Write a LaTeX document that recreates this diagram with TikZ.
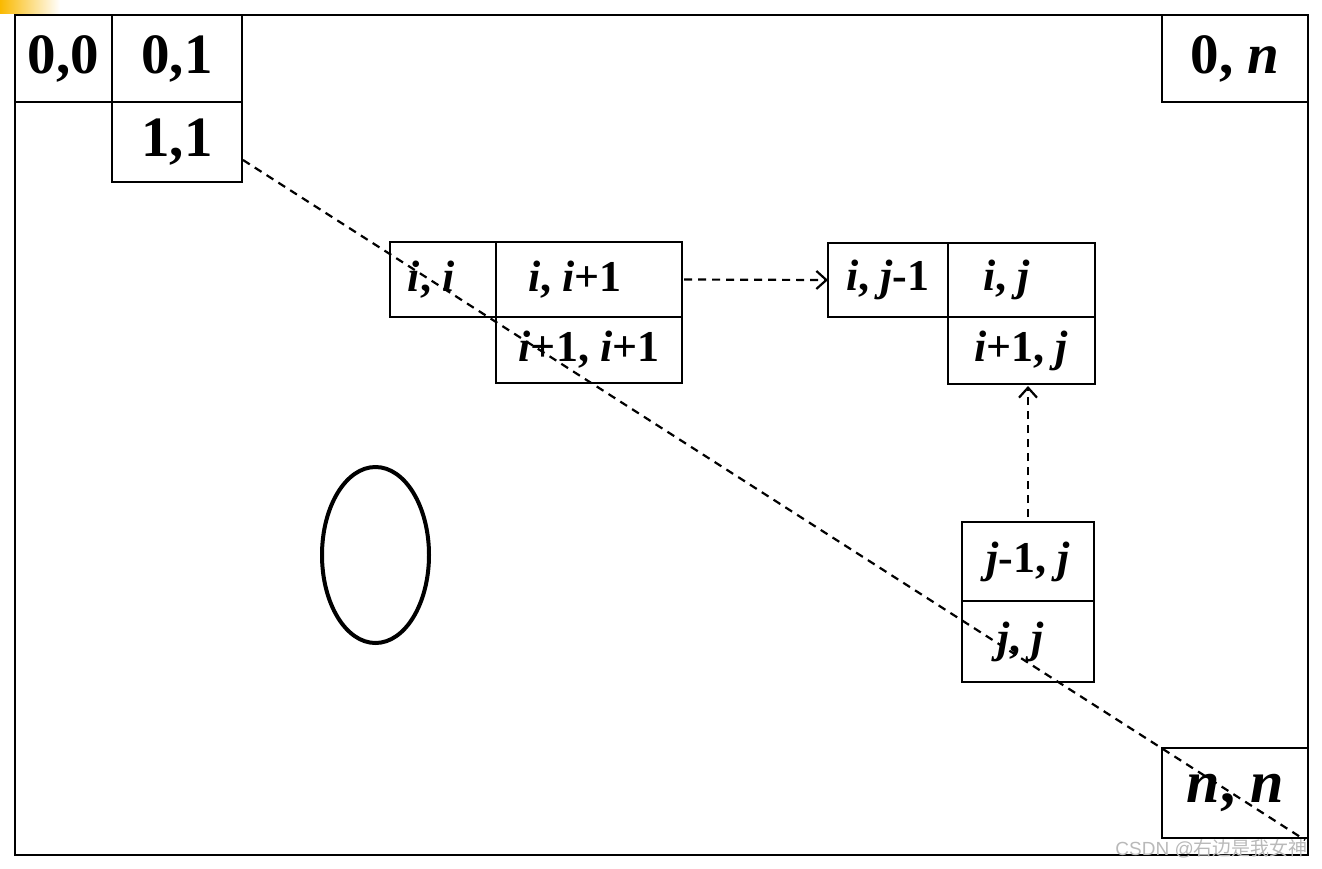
\documentclass[tikz,border=0pt]{standalone}
\usepackage{fontspec}
\setmainfont{Liberation Serif}
\newfontfamily\cjkfont{Noto Sans CJK SC}
\newfontfamily\marksans{Liberation Sans}
\usepackage{tikz}
\usetikzlibrary{arrows.meta, shapes.geometric, positioning}
\definecolor{tplyellow}{RGB}{250,185,0}

\begin{document}
\begin{tikzpicture}[x=1pt, y=-1pt,
  cell/.style={draw, line width=2.8pt, inner sep=0pt, outer sep=0pt, font=\bfseries\fontsize{44}{48}\selectfont},
  bigcell/.style={cell, font=\bfseries\fontsize{57}{60}\selectfont},
  link/.style={line width=2.2pt, dash pattern=on 8pt off 6pt, -{Straight Barb[length=10pt, width=18pt]}}]
\useasboundingbox (0,0) rectangle (1322,868);

% Template corner
\shade[left color=tplyellow, right color=white] (0,0) rectangle (60,13);

% Matrix frame
\draw[line width=2.8pt] (15,15) rectangle (1308,855);

% Top-left cells
\node[bigcell, minimum width=97pt, minimum height=87pt] (c00) at (63.5,58.5) {0,0};
\node[bigcell, minimum width=130pt, minimum height=87pt, anchor=west] (c01) at (c00.east) {0,1};
\node[bigcell, minimum width=130pt, minimum height=80pt, anchor=north] (c11) at (c01.south) {1,1};

% Corner cells
\node[bigcell, minimum width=146pt, minimum height=87pt] (c0n) at (1235,58.5) {0, \textit{n}};
\node[bigcell, minimum width=146pt, minimum height=90pt, font=\bfseries\fontsize{60}{64}\selectfont] (cnn) at (1235,793) {\textit{n}, \textit{n}};

% Row i
\node[cell, minimum width=106pt, minimum height=75pt] (cii) at (443,279.5) {\textit{i}, \textit{i}\hspace*{24pt}};
\node[cell, minimum width=186pt, minimum height=75pt, anchor=west] (ciip) at (cii.east) {\textit{i}, \textit{i}+1\hspace*{28pt}};
\node[cell, minimum width=186pt, minimum height=66pt, anchor=north] (cipip) at (ciip.south) {\textit{i}+1, \textit{i}+1};

% Row i, column j
\node[cell, minimum width=120pt, minimum height=74pt] (cijm) at (888,280) {\textit{i}, \textit{j}-1};
\node[cell, minimum width=147pt, minimum height=74pt, anchor=west] (cij) at (cijm.east) {\textit{i}, \textit{j}\hspace*{30pt}};
\node[cell, minimum width=147pt, minimum height=67pt, anchor=north] (cipj) at (cij.south) {\textit{i}+1, \textit{j}};

% Column j
\node[cell, minimum width=132pt, minimum height=79pt] (cjmj) at (1028,561.5) {\textit{j}-1, \textit{j}};
\node[cell, minimum width=132pt, minimum height=81pt, anchor=north] (cjj) at (cjmj.south) {\textit{j}, \textit{j}\hspace*{14pt}};

% Lower triangle mark
\node[draw, ellipse, line width=4pt, inner sep=0pt, minimum width=107pt, minimum height=176pt] (hole) at (375.5,555) {};

% Main diagonal
\coordinate (diagA) at (243,160);
\coordinate (diagB) at (1305,840);
\draw[line width=2.2pt, dash pattern=on 8pt off 6pt] (diagA) -- (diagB);

% Dependencies
\draw[link, shorten <=2pt] (ciip.east) -- (cijm.west);
\draw[link, shorten <=5pt, shorten >=2pt] (cjmj.north) -- (cjmj.north |- cipj.south);

% Watermark
\node[anchor=east, inner sep=0pt, text=gray!55, font=\fontsize{19}{20}\selectfont] (mark) at (1308,849) {\marksans CSDN @\cjkfont 右边是我女神};
\end{tikzpicture}
\end{document}
